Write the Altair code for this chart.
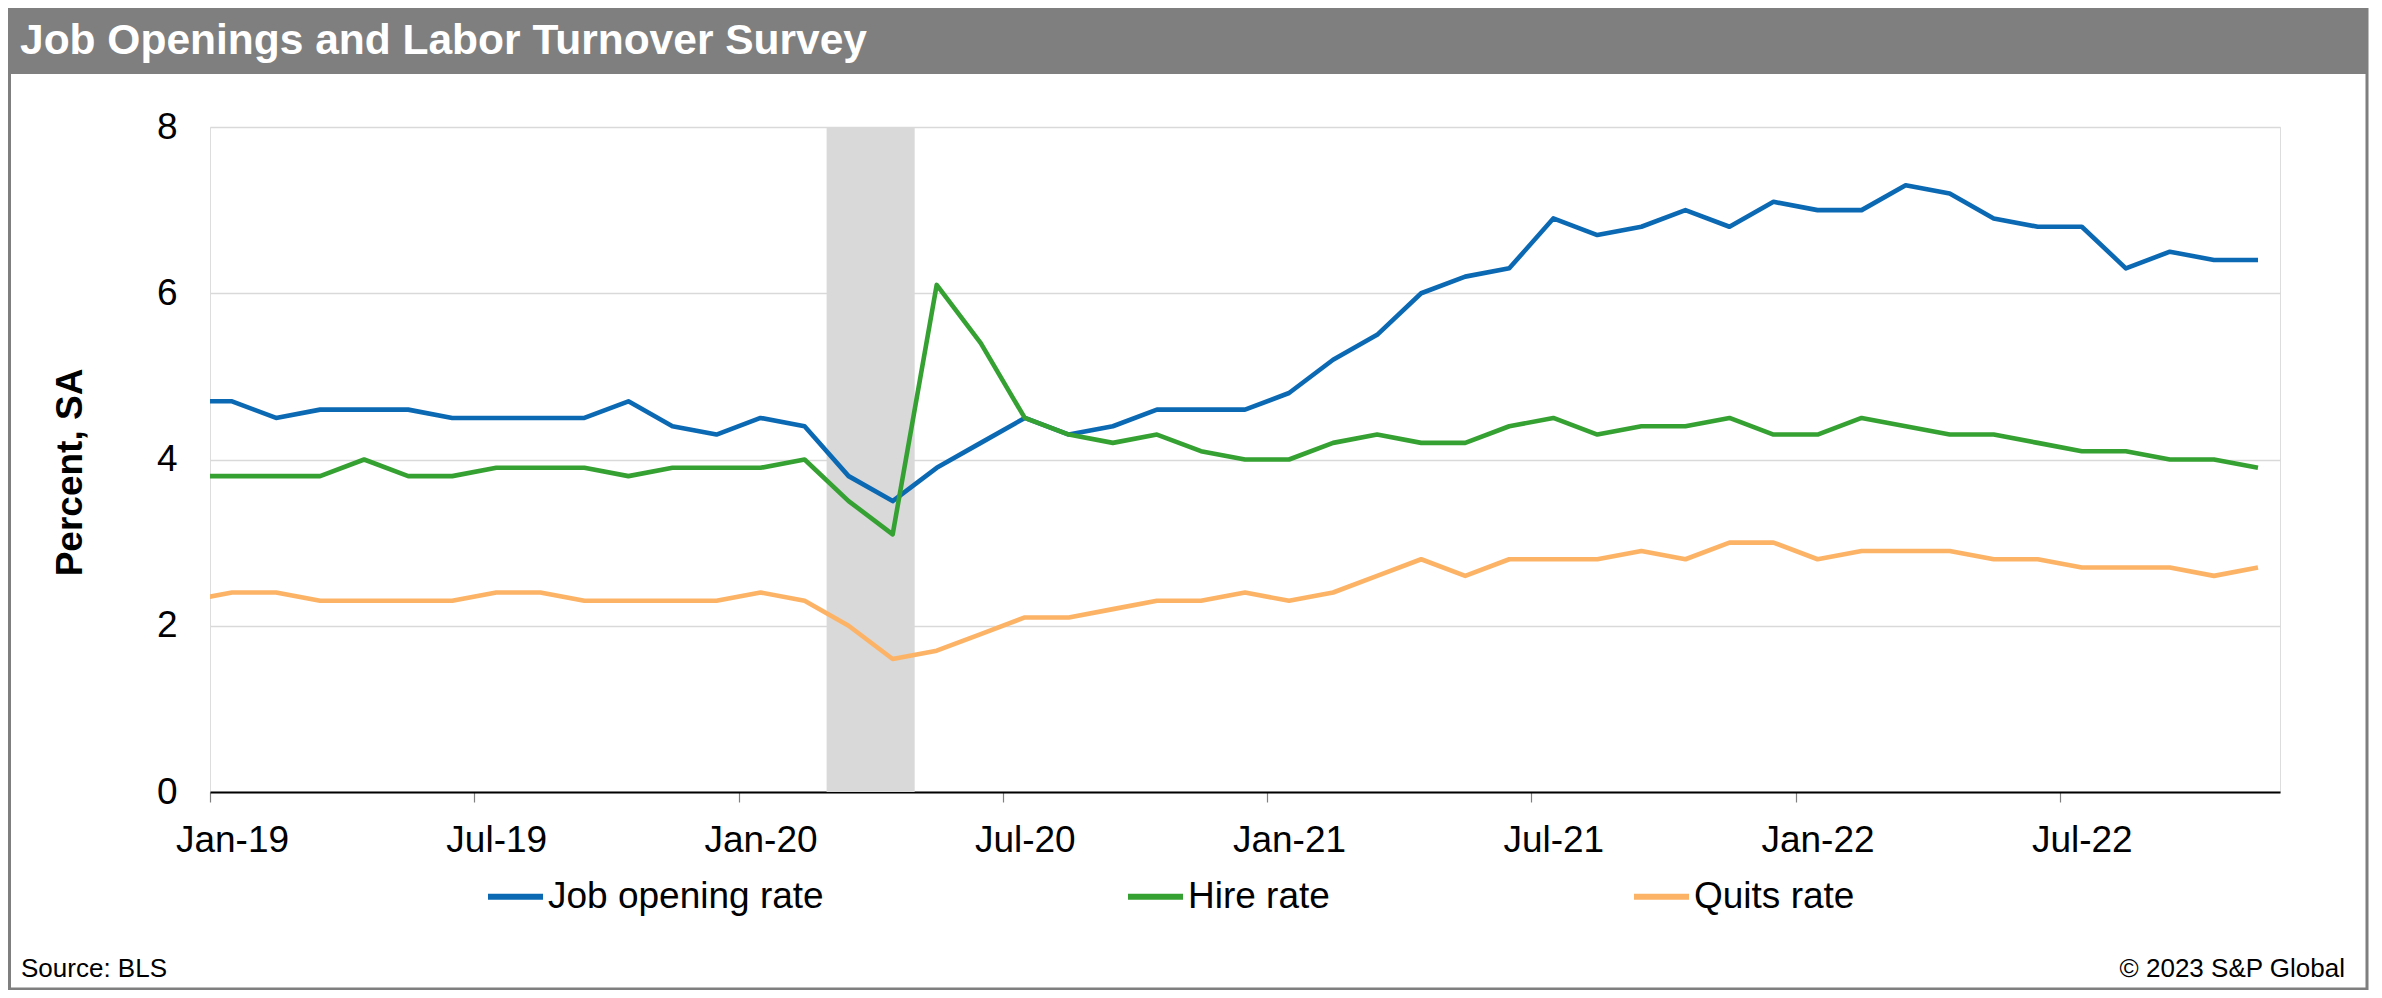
import altair as alt
import pandas as pd

# ---------------- data ----------------
months = [
    "Dec-18",
    "Jan-19", "Feb-19", "Mar-19", "Apr-19", "May-19", "Jun-19",
    "Jul-19", "Aug-19", "Sep-19", "Oct-19", "Nov-19", "Dec-19",
    "Jan-20", "Feb-20", "Mar-20", "Apr-20", "May-20", "Jun-20",
    "Jul-20", "Aug-20", "Sep-20", "Oct-20", "Nov-20", "Dec-20",
    "Jan-21", "Feb-21", "Mar-21", "Apr-21", "May-21", "Jun-21",
    "Jul-21", "Aug-21", "Sep-21", "Oct-21", "Nov-21", "Dec-21",
    "Jan-22", "Feb-22", "Mar-22", "Apr-22", "May-22", "Jun-22",
    "Jul-22", "Aug-22", "Sep-22", "Oct-22", "Nov-22",
]
job_opening_rate = [
    4.7,
    4.7, 4.5, 4.6, 4.6, 4.6, 4.5, 4.5, 4.5, 4.5, 4.7, 4.4, 4.3,
    4.5, 4.4, 3.8, 3.5, 3.9, 4.2, 4.5, 4.3, 4.4, 4.6, 4.6, 4.6,
    4.8, 5.2, 5.5, 6.0, 6.2, 6.3, 6.9, 6.7, 6.8, 7.0, 6.8, 7.1,
    7.0, 7.0, 7.3, 7.2, 6.9, 6.8, 6.8, 6.3, 6.5, 6.4, 6.4,
]
hire_rate = [
    3.8,
    3.8, 3.8, 3.8, 4.0, 3.8, 3.8, 3.9, 3.9, 3.9, 3.8, 3.9, 3.9,
    3.9, 4.0, 3.5, 3.1, 6.1, 5.4, 4.5, 4.3, 4.2, 4.3, 4.1, 4.0,
    4.0, 4.2, 4.3, 4.2, 4.2, 4.4, 4.5, 4.3, 4.4, 4.4, 4.5, 4.3,
    4.3, 4.5, 4.4, 4.3, 4.3, 4.2, 4.1, 4.1, 4.0, 4.0, 3.9,
]
quits_rate = [
    2.3,
    2.4, 2.4, 2.3, 2.3, 2.3, 2.3, 2.4, 2.4, 2.3, 2.3, 2.3, 2.3,
    2.4, 2.3, 2.0, 1.6, 1.7, 1.9, 2.1, 2.1, 2.2, 2.3, 2.3, 2.4,
    2.3, 2.4, 2.6, 2.8, 2.6, 2.8, 2.8, 2.8, 2.9, 2.8, 3.0, 3.0,
    2.8, 2.9, 2.9, 2.9, 2.8, 2.8, 2.7, 2.7, 2.7, 2.6, 2.7,
]
series_names = ["Job opening rate", "Hire rate", "Quits rate"]
series_colors = ["#0B69B4", "#36A133", "#FDB366"]
tick_labels = ["Jan-19", "Jul-19", "Jan-20", "Jul-20", "Jan-21", "Jul-21", "Jan-22", "Jul-22"]
y_ticks = [0, 2, 4, 6, 8]
recession_months = ["Mar-20", "Apr-20"]

title_text = "Job Openings and Labor Turnover Survey"
y_title = "Percent, SA"
source_text = "Source: BLS"
copyright_text = "\u00a9 2023 S&P Global"

FONT = "Liberation Sans"
W, H = 2070, 665

# ---------------- tables ----------------
# position of a month = its index on a month axis whose 0 is the start of Jan-19;
# each monthly observation sits in the middle of its month
def month_start(m):
    return months.index(m) - 1

rows = []
for name, vals in zip(series_names, [job_opening_rate, hire_rate, quits_rate]):
    for m, v in zip(months, vals):
        rows.append({"month": m, "pos": month_start(m) + 0.5, "series": name, "value": v})
df = pd.DataFrame(rows)

tick_values = [month_start(m) for m in tick_labels]
x_domain = [0, month_start(months[-1]) + 1]
label_expr = " : ".join(
    f"datum.value == {v} ? '{l}'" for v, l in zip(tick_values, tick_labels)
) + " : ''"

rec_df = pd.DataFrame({
    "start": [month_start(recession_months[0])],
    "end": [month_start(recession_months[-1]) + 1],
    "top": [max(y_ticks)],
    "bottom": [min(y_ticks)],
})

x_scale = alt.Scale(domain=x_domain, nice=False, zero=False)
y_scale = alt.Scale(domain=[min(y_ticks), max(y_ticks)], nice=False)

x_axis = alt.Axis(
    values=tick_values, labelExpr=label_expr, title=None, grid=False,
    labelOffset=22, labelFontSize=37, labelColor="black", labelFont=FONT,
    labelPadding=20, labelFlush=False, labelOverlap=False,
    tickSize=10, tickColor="#808080", tickWidth=1.2,
    domainColor="black", domainWidth=2.2,
)
y_axis = alt.Axis(
    values=y_ticks, title=y_title, grid=True, gridColor="#d9d9d9", gridWidth=1.5,
    domain=False, ticks=False, labelFontSize=37, labelColor="black", labelFont=FONT,
    labelPadding=33,
    titleFontSize=37, titleFont=FONT, titleFontWeight="bold", titleColor="black",
    titleAngle=270, titleX=-140, titleY=345, titleAlign="center", titleBaseline="middle",
)

one = pd.DataFrame({"title": [title_text], "source": [source_text], "copy": [copyright_text]})

frame = alt.Chart(one).mark_rect(fill="white", fillOpacity=0, stroke="#7f7f7f", strokeWidth=3).encode(
    x=alt.value(-200.5), x2=alt.value(2157), y=alt.value(-120), y2=alt.value(862)
)
title_bar = alt.Chart(one).mark_rect(fill="#7f7f7f").encode(
    x=alt.value(-202), x2=alt.value(2157), y=alt.value(-119), y2=alt.value(-53)
)
title_mark = alt.Chart(one).mark_text(
    align="left", baseline="alphabetic", fontSize=42.5, fontWeight="bold", color="white", font=FONT
).encode(x=alt.value(-190), y=alt.value(-73), text="title:N")

recession = alt.Chart(rec_df).mark_rect(color="#d9d9d9").encode(
    x=alt.X("start:Q", scale=x_scale, axis=x_axis),
    x2="end:Q",
    y=alt.Y("top:Q", scale=y_scale, axis=y_axis),
    y2="bottom:Q",
)

lines = alt.Chart(df).mark_line(clip=True, strokeWidth=4.6, strokeJoin="round").encode(
    x=alt.X("pos:Q", scale=x_scale, axis=x_axis),
    y=alt.Y("value:Q", scale=y_scale, axis=y_axis),
    color=alt.Color(
        "series:N",
        scale=alt.Scale(domain=series_names, range=series_colors),
        sort=series_names,
        legend=alt.Legend(
            title=None, orient="none", legendX=275, legendY=739, direction="horizontal",
            symbolType="stroke", symbolSize=3025, symbolStrokeWidth=6,
            labelFontSize=37, labelFont=FONT, labelColor="black", labelOffset=2,
            labelLimit=0, columnPadding=292, padding=0, columns=3,
        ),
    ),
    order=alt.Order("pos:Q"),
)

source_mark = alt.Chart(one).mark_text(
    align="left", baseline="alphabetic", fontSize=26, color="black", font=FONT
).encode(x=alt.value(-189), y=alt.value(850), text="source:N")
copy_mark = alt.Chart(one).mark_text(
    align="right", baseline="alphabetic", fontSize=26, color="black", font=FONT
).encode(x=alt.value(2135), y=alt.value(850), text="copy:N")

chart = alt.layer(
    frame, title_bar, title_mark, recession, lines, source_mark, copy_mark
).properties(
    width=W, height=H,
    padding={"left": 202, "top": 119, "right": 94, "bottom": 198},
    autosize=alt.AutoSizeParams(type="none"),
).configure_view(stroke=None).configure(font=FONT)

chart.save("out.html", embed_options={"renderer": "svg", "actions": False})
